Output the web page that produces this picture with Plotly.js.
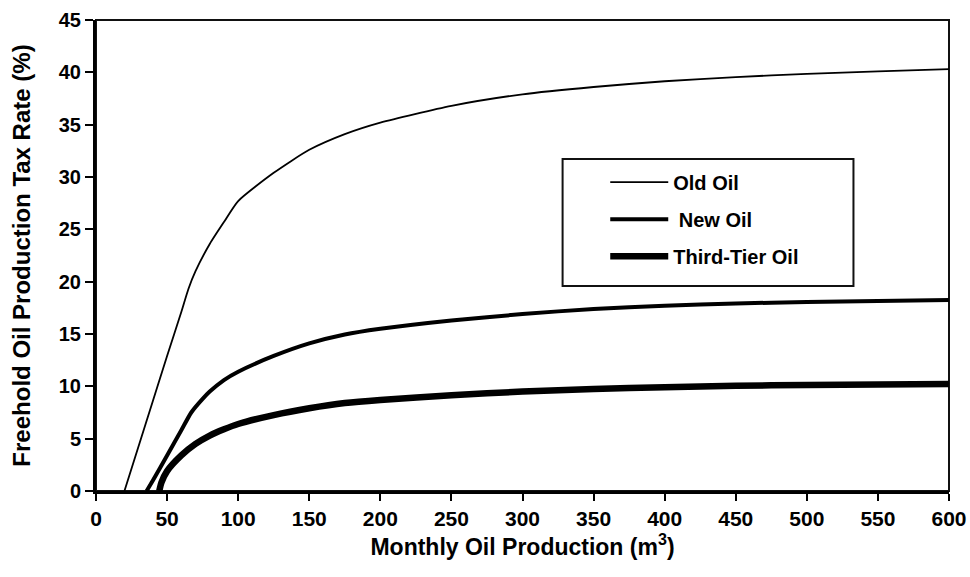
<!DOCTYPE html>
<html>
<head>
<meta charset="utf-8">
<script src="https://cdn.plot.ly/plotly-3.0.1.min.js"></script>
<style>
html,body{margin:0;padding:0;background:#fff;}
#chart{width:970px;height:577px;}
</style>
</head>
<body>
<div id="chart"></div>
<script>
// Data
const oldOilX = [20, 30, 40, 50, 60, 65, 70, 80, 90, 100, 125, 150, 175, 200, 250, 300, 350, 400, 450, 500, 550, 600];
const oldOilY = [0, 4.3, 8.6, 12.9, 17.1, 19.3, 21.0, 23.6, 25.7, 27.7, 30.4, 32.6, 34.1, 35.2, 36.8, 37.9, 38.6, 39.15, 39.55, 39.85, 40.1, 40.3];

const newOilX = [35.6, 40, 50, 60, 67, 75, 80, 90, 100, 125, 150, 175, 200, 250, 300, 350, 400, 450, 500, 550, 600];
const newOilY = [0, 1.0, 3.4, 5.8, 7.5, 8.8, 9.5, 10.6, 11.4, 12.9, 14.1, 14.95, 15.5, 16.3, 16.9, 17.4, 17.7, 17.92, 18.05, 18.15, 18.25];

const thirdX = [44.5, 46, 50, 60, 70, 80, 90, 100, 125, 150, 175, 200, 250, 300, 350, 400, 450, 500, 550, 600];
const thirdY = [0, 0.8, 1.9, 3.4, 4.5, 5.3, 5.9, 6.4, 7.25, 7.9, 8.4, 8.7, 9.15, 9.5, 9.75, 9.92, 10.05, 10.13, 10.18, 10.22];

const seriesNames = ['Old Oil', ' New Oil', 'Third-Tier Oil'];
const xTickVals = [0, 50, 100, 150, 200, 250, 300, 350, 400, 450, 500, 550, 600];
const yTickVals = [0, 5, 10, 15, 20, 25, 30, 35, 40, 45];

const fam = 'Liberation Sans, Arial, sans-serif';

const traces = [
  {x: oldOilX, y: oldOilY, name: seriesNames[0], mode: 'lines', legendgroup: 'a',
   line: {color: '#000', width: 1.8, shape: 'spline', smoothing: 0.6}},
  {x: newOilX, y: newOilY, name: seriesNames[1], mode: 'lines', legendgroup: 'b',
   line: {color: '#000', width: 4, shape: 'spline', smoothing: 0.6}},
  {x: thirdX, y: thirdY, name: seriesNames[2], mode: 'lines', legendgroup: 'c',
   line: {color: '#000', width: 6.5, shape: 'spline', smoothing: 0.6}}
];

const layout = {
  width: 970, height: 577,
  margin: {l: 96, r: 21, t: 20, b: 86},
  paper_bgcolor: '#fff', plot_bgcolor: '#fff',
  font: {family: fam, color: '#000'},
  showlegend: true,
  legend: {
    x: 0.597, y: 0.697, xanchor: 'left', yanchor: 'top',
    bgcolor: 'rgba(0,0,0,0)', borderwidth: 0,
    font: {family: fam, size: 20, color: '#000', weight: 'bold'},
    tracegroupgap: 8, itemwidth: 58
  },
  xaxis: {
    range: [0, 600], tickvals: xTickVals, ticktext: xTickVals.map(String),
    showgrid: false, zeroline: false,
    showline: true, linewidth: 3, linecolor: '#000',
    ticks: 'outside', ticklen: 7, tickwidth: 2, tickcolor: '#000',
    tickfont: {family: fam, size: 21, color: '#000', weight: 'bold'},
    title: {text: 'Monthly Oil Production (m<sup>3</sup>)', standoff: 8,
            font: {family: fam, size: 23, color: '#000', weight: 'bold'}}
  },
  yaxis: {
    range: [0, 45], tickvals: yTickVals, ticktext: yTickVals.map(String),
    showgrid: false, zeroline: false,
    showline: true, linewidth: 3, linecolor: '#000',
    ticks: 'outside', ticklen: 8, tickwidth: 2, tickcolor: '#000',
    tickfont: {family: fam, size: 20, color: '#000', weight: 'bold'},
    title: {text: 'Freehold Oil Production Tax Rate (%)', standoff: 22,
            font: {family: fam, size: 24, color: '#000', weight: 'bold'}}
  },
  shapes: [
    {type: 'rect', xref: 'paper', yref: 'paper', x0: 0, x1: 1, y0: 0, y1: 1,
     line: {color: '#111', width: 2}, layer: 'below'},
    {type: 'rect', xref: 'paper', yref: 'paper', x0: 0.547, x1: 0.888, y0: 0.435, y1: 0.705,
     line: {color: '#111', width: 2}, fillcolor: 'rgba(0,0,0,0)'}
  ]
};

Plotly.newPlot('chart', traces, layout, {displayModeBar: false, staticPlot: true});
</script>
</body>
</html>
